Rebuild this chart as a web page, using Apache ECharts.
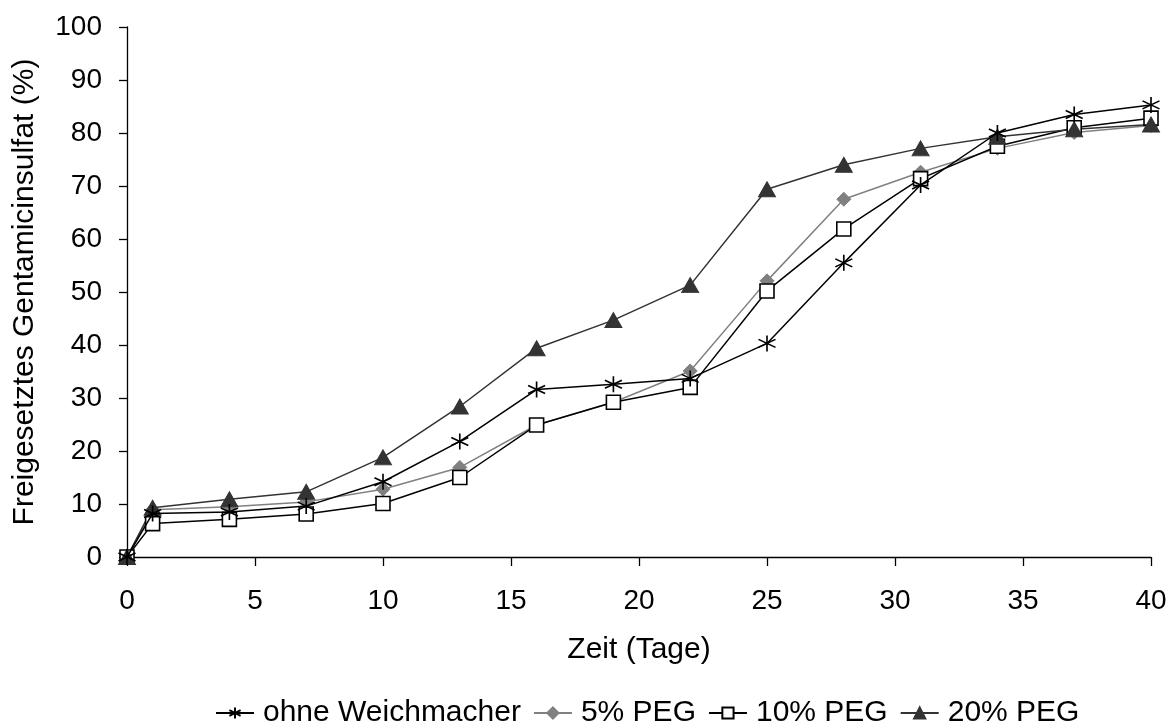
<!DOCTYPE html>
<html><head><meta charset="utf-8">
<script src="https://cdn.jsdelivr.net/npm/echarts@6/dist/echarts.min.js"></script>
<style>html,body{margin:0;padding:0;background:#fff}#c{width:1172px;height:722px}</style>
</head><body><div id="c"></div>
<script>
const days = [0, 1, 4, 7, 10, 13, 16, 19, 22, 25, 28, 31, 34, 37, 40];
const ohneWeichmacher = [0, 8.2, 8.5, 9.6, 14.2, 21.8, 31.6, 32.6, 33.7, 40.3, 55.5, 70.2, 80.0, 83.5, 85.3];
const peg5 = [0, 8.9, 9.5, 10.4, 12.8, 16.9, 24.9, 29.2, 35.1, 52.1, 67.5, 72.6, 77.1, 80.1, 81.4];
const peg10 = [0, 6.3, 7.1, 8.1, 10.1, 15.0, 24.9, 29.2, 32.0, 50.2, 61.9, 71.4, 77.5, 81.0, 82.8];
const peg20 = [0, 9.3, 10.9, 12.3, 18.8, 28.4, 39.4, 44.7, 51.3, 69.4, 74.0, 77.1, 79.3, 80.7, 81.6];
const seriesNames = ['ohne Weichmacher', '5% PEG', '10% PEG', '20% PEG'];

const pair = arr => days.map((d, i) => [d, arr[i]]);
const font = 'Liberation Sans, Arial, sans-serif';
const starPath = 'path://M0,-10L0,10M-8.66,-5L8.66,5M-8.66,5L8.66,-5';

const chart = echarts.init(document.getElementById('c'));
chart.setOption({
  animation: false,
  backgroundColor: '#fff',
  grid: { left: 127, right: 21, top: 27, bottom: 165 },
  xAxis: {
    type: 'value', min: 0, max: 40, interval: 5,
    name: 'Zeit (Tage)', nameLocation: 'middle', nameGap: 78,
    nameTextStyle: { fontFamily: font, fontSize: 30, color: '#000' },
    axisLine: { lineStyle: { color: '#000', width: 1.3 } },
    axisTick: { show: true, length: 9, lineStyle: { color: '#000', width: 1.3 } },
    axisLabel: { fontFamily: font, fontSize: 28, color: '#000', margin: 30 },
    splitLine: { show: false }
  },
  yAxis: {
    type: 'value', min: 0, max: 100, interval: 10,
    name: 'Freigesetztes Gentamicinsulfat (%)', nameLocation: 'middle', nameGap: 87,
    nameTextStyle: { fontFamily: font, fontSize: 30, color: '#000' },
    axisLine: { show: true, lineStyle: { color: '#000', width: 1.3 } },
    axisTick: { show: true, length: 8, lineStyle: { color: '#000', width: 1.3 } },
    axisLabel: { fontFamily: font, fontSize: 28, color: '#000', margin: 25 },
    splitLine: { show: false }
  },
  legend: {
    top: 693, left: 210, itemGap: 12, itemWidth: 38, itemHeight: 14,
    textStyle: { fontFamily: font, fontSize: 30, color: '#000', padding: [0, 0, 0, 4] },
    data: seriesNames
  },
  series: [
    {
      name: seriesNames[0], type: 'line', data: pair(ohneWeichmacher),
      symbol: starPath, symbolSize: [17, 16],
      lineStyle: { color: '#000', width: 1.5 },
      itemStyle: { color: '#000', borderColor: '#000', borderWidth: 1.6, opacity: 1 },
      z: 4
    },
    {
      name: seriesNames[1], type: 'line', data: pair(peg5),
      symbol: 'diamond', symbolSize: [14, 14],
      lineStyle: { color: '#808080', width: 1.5 },
      itemStyle: { color: '#808080', borderColor: '#808080', borderWidth: 1 },
      z: 2
    },
    {
      name: seriesNames[2], type: 'line', data: pair(peg10),
      symbol: 'rect', symbolSize: 14,
      lineStyle: { color: '#000', width: 1.5 },
      itemStyle: { color: '#fff', borderColor: '#000', borderWidth: 1.6 },
      z: 3
    },
    {
      name: seriesNames[3], type: 'line', data: pair(peg20),
      symbol: 'triangle', symbolSize: [17, 15],
      lineStyle: { color: '#333', width: 1.5 },
      itemStyle: { color: '#333', borderColor: '#333', borderWidth: 1 },
      z: 3
    }
  ]
});
</script></body></html>
